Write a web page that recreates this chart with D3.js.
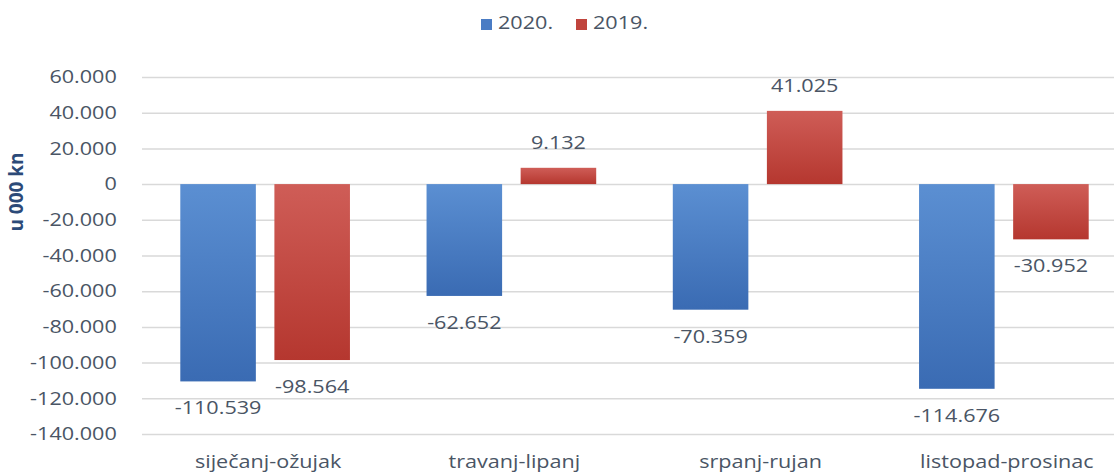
<!DOCTYPE html>
<html>
<head>
<meta charset="utf-8">
<script src="https://cdn.jsdelivr.net/npm/d3@7"></script>
<style>
  html, body { margin: 0; padding: 0; background: #fff; }
  svg { display: block; font-family: "Open Sans", sans-serif; }
</style>
</head>
<body>
<div id="chart"></div>
<script>
// data (u 000 kn)
const categories = ["siječanj-ožujak", "travanj-lipanj", "srpanj-rujan", "listopad-prosinac"]
const seriesNames = ["2020.", "2019."]
const values2020 = [-110539, -62652, -70359, -114676]
const values2019 = [-98564, 9132, 41025, -30952]
const yTicks = [-140000, -120000, -100000, -80000, -60000, -40000, -20000, 0, 20000, 40000, 60000]

const width = 1114, height = 475
const plotLeft = 142, plotRight = 1127, plotTop = 77, plotBottom = 434
const textColor = "#4a5565"
const stretch = 1.2   // source text is horizontally stretched

const locale = d3.formatLocale({decimal: ",", thousands: ".", grouping: [3], currency: ["", ""], minus: "-"})
const fmt = locale.format(",d")

const data = categories.map((c, i) => ({
  cat: c,
  vals: [
    {name: seriesNames[0], value: values2020[i]},
    {name: seriesNames[1], value: values2019[i]}
  ]
}))

const svg = d3.select("#chart").append("svg")
  .attr("width", width)
  .attr("height", height)

const defs = svg.append("defs")
const grads = [
  {id: "g2020", c0: "#5b8fd2", c1: "#3a6bb3"},
  {id: "g2019", c0: "#cf5d57", c1: "#b5372f"}
]
grads.forEach(g => {
  const lg = defs.append("linearGradient").attr("id", g.id)
    .attr("x1", 0).attr("y1", 0).attr("x2", 0).attr("y2", 1)
  lg.append("stop").attr("offset", "0%").attr("stop-color", g.c0)
  lg.append("stop").attr("offset", "100%").attr("stop-color", g.c1)
})
const fillFor = name => name === seriesNames[0] ? "url(#g2020)" : "url(#g2019)"

const x0 = d3.scaleBand().domain(categories).range([plotLeft, plotRight])
const x1 = d3.scaleBand().domain(seriesNames).range([0, x0.bandwidth()])
  .paddingInner(0.197).paddingOuter(0.407)
const y = d3.scaleLinear().domain([-140000, 60000]).range([plotBottom, plotTop])

// y axis + gridlines
const yAxis = svg.append("g")
  .attr("transform", `translate(${plotLeft},0)`)
  .call(d3.axisLeft(y)
    .tickValues(yTicks)
    .tickFormat(d => fmt(d))
    .tickSizeInner(-(width - plotLeft))
    .tickSizeOuter(0)
    .tickPadding(21))
yAxis.select(".domain").remove()
yAxis.selectAll(".tick line").attr("stroke", "#d9d9d9").attr("stroke-width", 1.5)
yAxis.selectAll(".tick text")
  .attr("fill", textColor)
  .attr("font-size", 18)
  .attr("font-family", "Open Sans, sans-serif")
  .attr("transform", `scale(${stretch},1)`)

// axis title
svg.append("text")
  .attr("transform", `translate(23,192) rotate(-90)`)
  .attr("text-anchor", "middle")
  .attr("font-size", 19)
  .attr("font-weight", "bold")
  .attr("fill", "#2c4a78")
  .text("u 000 kn")

// bars
const groups = svg.append("g").selectAll("g")
  .data(data)
  .join("g")
  .attr("transform", d => `translate(${x0(d.cat)},0)`)

groups.selectAll("rect")
  .data(d => d.vals)
  .join("rect")
  .attr("x", d => x1(d.name))
  .attr("width", x1.bandwidth())
  .attr("y", d => y(Math.max(0, d.value)))
  .attr("height", d => Math.abs(y(d.value) - y(0)))
  .attr("fill", d => fillFor(d.name))

// data labels
groups.selectAll("g.lbl")
  .data(d => d.vals)
  .join("g")
  .attr("class", "lbl")
  .attr("transform", d => {
    const cx = x1(d.name) + x1.bandwidth() / 2
    const cy = d.value < 0 ? y(d.value) + 28 : y(d.value) - 24
    return `translate(${cx},${cy})`
  })
  .append("text")
  .attr("transform", `scale(${stretch},1)`)
  .attr("text-anchor", "middle")
  .attr("dominant-baseline", "middle")
  .attr("font-size", 18)
  .attr("fill", textColor)
  .text(d => fmt(d.value))

// category labels
svg.append("g").selectAll("g")
  .data(categories)
  .join("g")
  .attr("transform", d => `translate(${x0(d) + x0.bandwidth() / 2 + 3},463)`)
  .append("text")
  .attr("transform", `scale(${stretch},1)`)
  .attr("text-anchor", "middle")
  .attr("dominant-baseline", "middle")
  .attr("font-size", 18)
  .attr("fill", textColor)
  .text(d => d)

// legend
const legendItems = [
  {name: seriesNames[0], color: "#4a7cc4", x: 481},
  {name: seriesNames[1], color: "#c0443d", x: 576}
]
const legend = svg.append("g").selectAll("g")
  .data(legendItems)
  .join("g")
  .attr("transform", d => `translate(${d.x},19)`)
legend.append("rect")
  .attr("width", 11).attr("height", 11)
  .attr("fill", d => d.color)
legend.append("g")
  .attr("transform", "translate(17,5)")
  .append("text")
  .attr("transform", `scale(${stretch},1)`)
  .attr("dominant-baseline", "middle")
  .attr("font-size", 18)
  .attr("fill", textColor)
  .text(d => d.name)
</script>
</body>
</html>
